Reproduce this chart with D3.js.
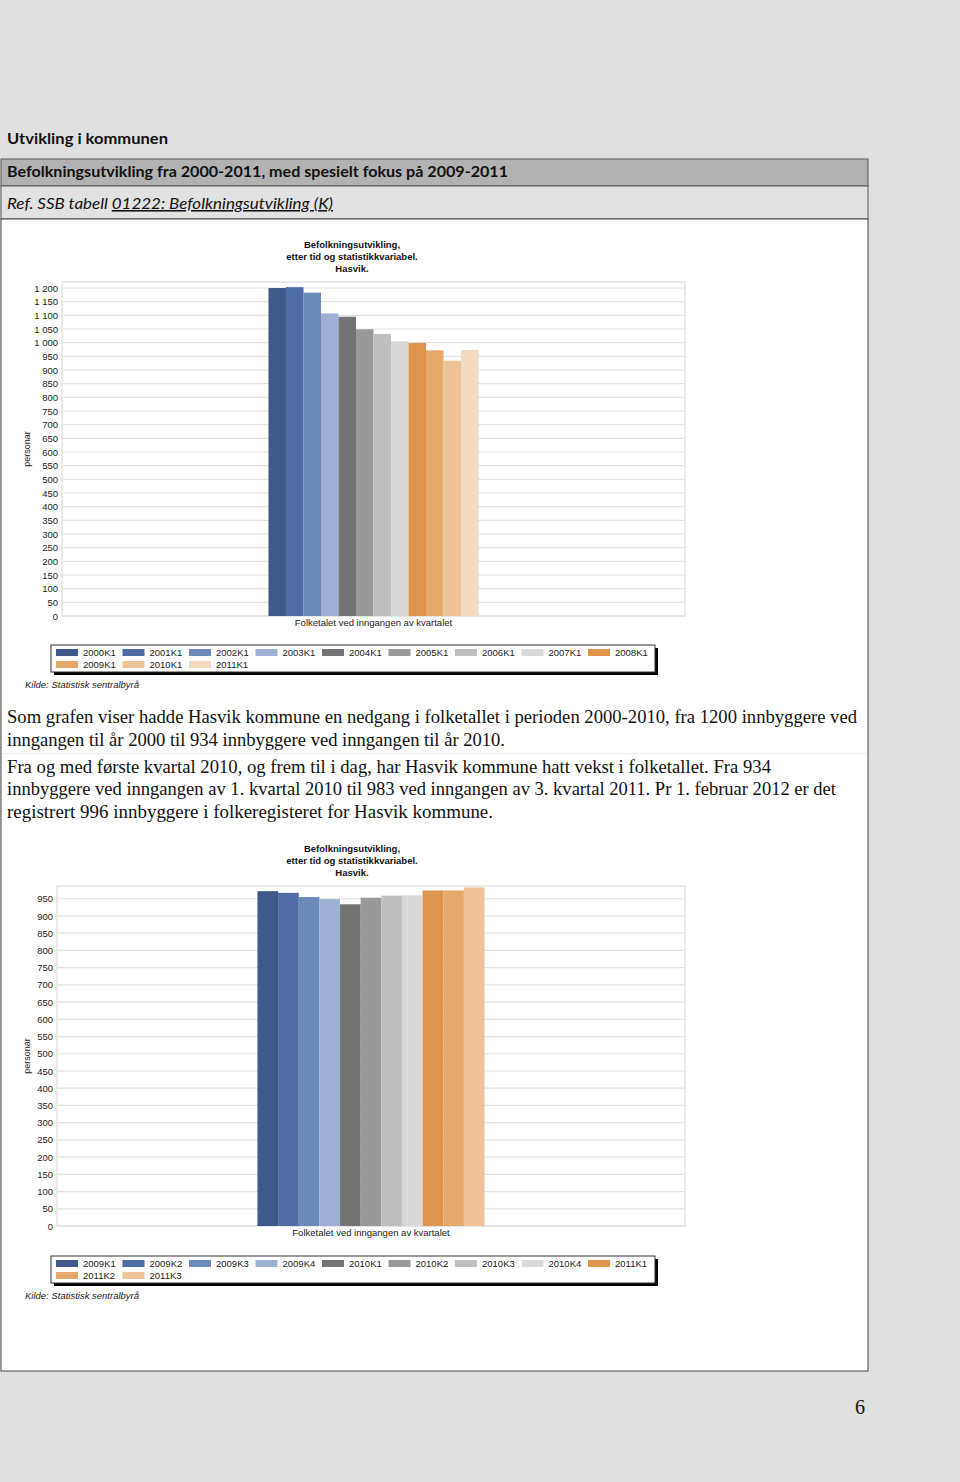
<!DOCTYPE html>
<html><head><meta charset="utf-8">
<script src="https://cdn.jsdelivr.net/npm/d3@7"></script>
<style>
html,body{margin:0;padding:0;background:#e0e0e0;}
svg{display:block;}
</style></head>
<body>
<svg id="page" width="960" height="1482"></svg>
<script>
// ---------- DATA ----------
const categories1 = ["2000K1","2001K1","2002K1","2003K1","2004K1","2005K1","2006K1","2007K1","2008K1","2009K1","2010K1","2011K1"];
const values1 = [1200, 1203, 1183, 1107, 1095, 1049, 1032, 1005, 999, 972, 934, 973];
const ticks1 = [0,50,100,150,200,250,300,350,400,450,500,550,600,650,700,750,800,850,900,950,1000,1050,1100,1150,1200];

const categories2 = ["2009K1","2009K2","2009K3","2009K4","2010K1","2010K2","2010K3","2010K4","2011K1","2011K2","2011K3"];
const values2 = [972, 967, 955, 949, 934, 953, 959, 960, 974, 974, 983];
const ticks2 = [0,50,100,150,200,250,300,350,400,450,500,550,600,650,700,750,800,850,900,950];

const palette = ["#3f5a8a","#4e6ba3","#6b89ba","#9eb1d5","#737373","#999999","#bebebe","#d9d9d9","#e0954e","#e6a96c","#edc397","#f3d9bd"];

const groupLabel = "Folketalet ved inngangen av kvartalet";
const titleLines = ["Befolkningsutvikling,","etter tid og statistikkvariabel.","Hasvik."];

const svg = d3.select("#page");

// ---------- PAGE FRAME ----------
svg.append("rect").attr("x",0).attr("y",0).attr("width",960).attr("height",1482).attr("fill","#e0e0e0");
svg.append("text").attr("x",7).attr("y",144).attr("font-family","Lato, 'Open Sans', sans-serif")
  .attr("font-weight","bold").attr("font-size",15.5).attr("fill","#111").text("Utvikling i kommunen")
  .attr("textLength",161).attr("lengthAdjust","spacingAndGlyphs");

svg.append("rect").attr("x",1).attr("y",159).attr("width",867).attr("height",27).attr("fill","#b2b2b2").attr("stroke","#555");
svg.append("rect").attr("x",1).attr("y",186).attr("width",867).attr("height",33).attr("fill","#e2e2e2").attr("stroke","#555");
svg.append("rect").attr("x",1).attr("y",219).attr("width",867).attr("height",1152).attr("fill","#ffffff").attr("stroke","#444");

svg.append("text").attr("x",7).attr("y",177).attr("font-family","Lato, 'Open Sans', sans-serif")
  .attr("font-weight","bold").attr("font-size",15.5).attr("fill","#111")
  .text("Befolkningsutvikling fra 2000-2011, med spesielt fokus på 2009-2011")
  .attr("textLength",501).attr("lengthAdjust","spacingAndGlyphs");

const ref = svg.append("text").attr("x",7).attr("y",209).attr("font-family","Lato, 'Open Sans', sans-serif")
  .attr("font-style","italic").attr("font-size",15.5).attr("fill","#111")
  .attr("textLength",326).attr("lengthAdjust","spacingAndGlyphs");
ref.append("tspan").text("Ref. SSB tabell ");
ref.append("tspan").attr("text-decoration","underline").text("01222: Befolkningsutvikling (K)");

// paragraphs
const paraLines = [
  {t:"Som grafen viser hadde Hasvik kommune en nedgang i folketallet i perioden 2000-2010, fra 1200 innbyggere ved", y:723, w:850},
  {t:"inngangen til år 2000 til 934 innbyggere ved inngangen til år 2010.", y:746, w:498},
  {t:"Fra og med første kvartal 2010, og frem til i dag, har Hasvik kommune hatt vekst i folketallet. Fra 934", y:773, w:764},
  {t:"innbyggere ved inngangen av 1. kvartal 2010 til 983 ved inngangen av 3. kvartal 2011. Pr 1. februar 2012 er det", y:795, w:829},
  {t:"registrert 996 innbyggere i folkeregisteret for Hasvik kommune.", y:818, w:486}
];
svg.append("line").attr("x1",2).attr("x2",867).attr("y1",753.5).attr("y2",753.5).attr("stroke","#f0f0f0");
svg.selectAll("text.para").data(paraLines).join("text").attr("class","para")
  .attr("x",7).attr("y",d=>d.y).attr("font-family","'Liberation Serif', 'DejaVu Serif', serif")
  .attr("font-size",18).attr("fill","#111").attr("textLength",d=>d.w).attr("lengthAdjust","spacingAndGlyphs")
  .text(d=>d.t);

svg.append("text").attr("x",860).attr("y",1414).attr("text-anchor","middle")
  .attr("font-family","'Liberation Serif', serif").attr("font-size",20).attr("fill","#111").text("6");

// ---------- CHART ----------
function fmt(v){ return v >= 1000 ? d3.format(",")(v).replace(",", " ") : String(v); }

function drawChart(cfg){
  const g = svg.append("g");
  const font = "'Liberation Sans', Arial, sans-serif";
  // title
  g.selectAll("text.title").data(titleLines).join("text").attr("class","title")
    .attr("x",352).attr("y",(d,i)=>cfg.titleY + i*12).attr("text-anchor","middle")
    .attr("font-family",font).attr("font-weight","bold").attr("font-size",9.5).attr("fill","#111").text(d=>d);

  const y = d3.scaleLinear().domain([0, cfg.yMax]).range([cfg.bottom, cfg.top]);
  const x0 = d3.scaleBand().domain([groupLabel]).range([cfg.left, cfg.right]).paddingInner(0).paddingOuter(cfg.pad);
  const x1 = d3.scaleBand().domain(cfg.cats).range([0, x0.bandwidth()]).padding(0);

  // plot frame
  g.append("rect").attr("x",cfg.left).attr("y",cfg.top).attr("width",cfg.right-cfg.left).attr("height",cfg.bottom-cfg.top)
    .attr("fill","#fff").attr("stroke","#e4e4e4").attr("stroke-width",1.5);

  // gridlines
  g.selectAll("line.grid").data(cfg.ticks).join("line").attr("class","grid")
    .attr("x1",cfg.left).attr("x2",cfg.right).attr("y1",d=>y(d)).attr("y2",d=>y(d))
    .attr("stroke","#e2e2e2").attr("stroke-width",1.2);

  // y axis
  const ax = d3.axisLeft(y).tickValues(cfg.ticks).tickSize(0).tickPadding(4).tickFormat(fmt);
  const ag = g.append("g").attr("transform",`translate(${cfg.left},0)`).call(ax);
  ag.select(".domain").remove();
  ag.selectAll("text").attr("font-family",font).attr("font-size",9.5).attr("fill","#222");

  // axis title
  g.append("text").attr("transform",`translate(30,${(cfg.top+cfg.bottom)/2}) rotate(-90)`)
    .attr("text-anchor","middle").attr("font-family",font).attr("font-size",9).attr("fill","#222").text("personar");

  // bars
  const grp = g.append("g").attr("transform",`translate(${x0(groupLabel)},0)`);
  grp.selectAll("rect").data(cfg.vals).join("rect")
    .attr("x",(d,i)=>x1(cfg.cats[i])).attr("width",x1.bandwidth())
    .attr("y",d=>y(d)).attr("height",d=>cfg.bottom - y(d))
    .attr("fill",(d,i)=>palette[i]);

  // x axis label
  const xa = d3.axisBottom(x0).tickSize(0).tickPadding(3);
  const xg = g.append("g").attr("transform",`translate(0,${cfg.bottom})`).call(xa);
  xg.select(".domain").remove();
  xg.selectAll("text").attr("font-family",font).attr("font-size",9.5).attr("fill","#222");

  // legend
  const L = cfg.legendY;
  g.append("rect").attr("x",54).attr("y",L+3).attr("width",604).attr("height",27).attr("fill","#000");
  g.append("rect").attr("x",51).attr("y",L).attr("width",604).attr("height",27).attr("fill","#fff").attr("stroke","#333");
  const items = g.selectAll("g.leg").data(cfg.cats).join("g").attr("class","leg")
    .attr("transform",(d,i)=>`translate(${56 + (i%9)*66.5},${L + 4 + Math.floor(i/9)*12})`);
  items.append("rect").attr("width",22).attr("height",7).attr("fill",(d,i)=>palette[i]);
  items.append("text").attr("x",27).attr("y",7).attr("font-family",font).attr("font-size",9.5).attr("fill","#222").text(d=>d);

  g.append("text").attr("x",25).attr("y",cfg.legendY+43).attr("font-family",font).attr("font-style","italic")
    .attr("font-size",9.5).attr("fill","#222").text("Kilde: Statistisk sentralbyrå");
}

drawChart({titleY:248, top:282, bottom:616, left:62, right:685, pad:0.983, yMax:1222,
  ticks:ticks1, cats:categories1, vals:values1, legendY:645});
drawChart({titleY:852, top:886, bottom:1226, left:57, right:685, pad:0.883, yMax:987,
  ticks:ticks2, cats:categories2, vals:values2, legendY:1256});
</script>
</body></html>
